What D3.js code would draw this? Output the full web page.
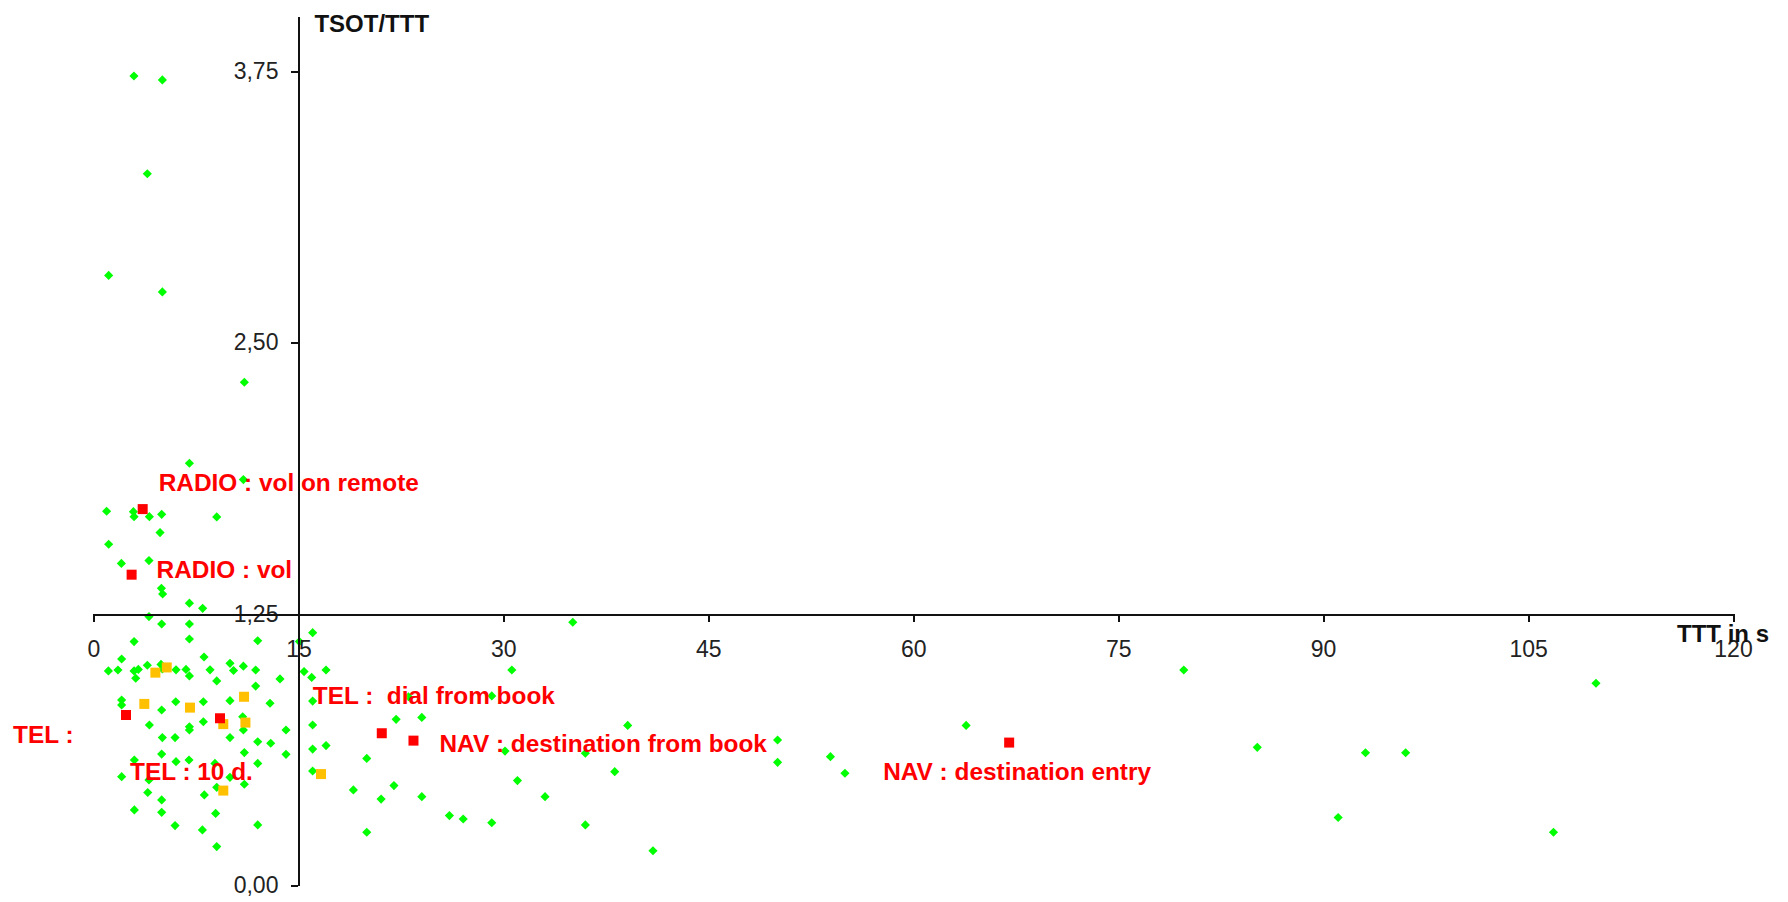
<!DOCTYPE html>
<html>
<head>
<meta charset="utf-8">
<script src="https://cdn.jsdelivr.net/npm/d3@7"></script>
<style>
  html, body { margin: 0; padding: 0; background: #fff; }
  svg { display: block; }
  .tick text { font-family: "Liberation Sans", Arial, sans-serif; font-size: 23px; fill: #222; }
  .axis path, .axis line { stroke: #111; stroke-width: 2; shape-rendering: crispEdges; }
  .title { font-family: "Liberation Sans", Arial, sans-serif; font-size: 24px; font-weight: bold; fill: #111; }
  .note { font-family: "Liberation Sans", Arial, sans-serif; font-size: 24.4px; font-weight: bold; fill: #ff0000; }
</style>
</head>
<body>
<svg id="chart" width="1788" height="902"></svg>
<script>
// ---- data -------------------------------------------------------------
// x: total task time TTT (s), y: TSOT/TTT ratio
const tasksX = [2.96,5.04,3.94,1.11,5.04,
  11.04,7.02,10.97,0.96,2.92,2.97,4.09,4.99,9.02,4.87,1.11,2.04,4.06,4.97,5.06,7.02,7.99,4.06,
  4.99,7.02,7.02,2.97,12.02,2.06,8.09,1.09,1.79,2.97,3.28,3.94,3.09,4.94,5.04,6.04,6.77,7.02,8.53,9.02,
  9.99,10.25,10.97,11.87,13.65,11.87,2.06,2.06,4.99,6.02,8.04,9.99,12.92,8.04,7.02,7.02,4.09,10.92,10.97,
  5.04,5.97,9.99,14.09,12.02,12.97,14.09,11.04,4.99,2.99,6.04,6.99,8.89,12.02,9.99,2.06,4.06,9.02,11.04,
  3.97,8.11,4.99,2.99,4.99,8.94,5.97,7.97,12.02,9.02,
  35.08,16.04,15.07,15.41,15.97,17.02,30.62,16.04,23.05,29.15,22.15,24.03,16.04,16.04,17.02,30.12,36.0,
  20.0,16.04,19.02,21.99,21.05,24.03,31.03,33.05,26.05,27.06,29.15,36.0,20.0,
  39.1,38.15,40.95,50.07,50.07,53.94,55.0,63.87,79.8,
  85.18,93.1,96.04,91.1,109.97,106.86];
const tasksY = [3.727,3.709,3.277,2.809,2.733,
  2.317,1.944,1.869,1.723,1.721,1.698,1.698,1.709,1.697,1.625,1.571,1.483,1.496,1.368,1.342,1.300,1.276,1.238,
  1.204,1.204,1.135,1.123,1.127,1.043,1.052,0.988,0.992,0.988,0.995,1.014,0.954,1.018,0.997,0.993,0.995,0.965,0.993,0.942,
  1.023,0.990,1.010,0.992,0.951,0.918,0.854,0.831,0.808,0.846,0.846,0.851,0.839,0.754,0.731,0.716,0.739,0.777,0.716,
  0.681,0.681,0.681,0.716,0.662,0.655,0.604,0.612,0.605,0.578,0.570,0.578,0.562,0.562,0.498,0.501,0.486,0.452,0.466,
  0.428,0.417,0.394,0.348,0.337,0.332,0.276,0.256,0.279,0.179,
  1.212,1.164,1.123,0.985,0.958,0.992,0.992,0.849,0.869,0.873,0.765,0.774,0.739,0.628,0.644,0.619,0.609,
  0.585,0.527,0.440,0.460,0.398,0.409,0.483,0.409,0.322,0.306,0.289,0.279,0.245,
  0.737,0.524,0.160,0.670,0.567,0.593,0.517,0.737,0.992,
  0.636,0.611,0.611,0.313,0.931,0.245];

// reference tasks (orange)
const refX = [3.72,4.53,5.36,7.06,11.02,9.50,11.12,9.50,16.65];
const refY = [0.836,0.980,1.004,0.819,0.869,0.743,0.750,0.437,0.513];

// highlighted tasks (red) and their names
const keyNames = ["RADIO : vol on remote","RADIO : vol","TEL :","TEL : 10 d.",
  "TEL :  dial from book","NAV : destination from book","NAV : destination entry"];
const keyX = [3.60,2.79,2.38,9.26,21.10,23.42,67.02];
const keyY = [1.733,1.431,0.785,0.770,0.701,0.667,0.658];

const xTicks = [0,15,30,45,60,75,90,105,120];
const yTicks = [0,1.25,2.5,3.75];
const yTickLabels = ["0,00","1,25","2,50","3,75"];

// ---- layout -----------------------------------------------------------
const svg = d3.select("#chart");
const x = d3.scaleLinear().domain([0,120]).range([93.5,1733]);
const y = d3.scaleLinear().domain([0,4]).range([885.5,16.7]);
const xCross = 15;      // y axis sits at TTT = 15 s
const yCross = 1.25;    // x axis sits at ratio 1.25

// name label offsets (px) from each highlighted marker
const labelDX = [16,25,-113,-90,-69,26,-126];
const labelDY = [-18,3,28,62,-29,11,37];

// ---- marks ------------------------------------------------------------
const green = tasksX.map((v,i)=>({x:v,y:tasksY[i]}));
const orange = refX.map((v,i)=>({x:v,y:refY[i]}));
const red = keyX.map((v,i)=>({x:v,y:keyY[i],name:keyNames[i]}));

const diamond = d3.symbol().type(d3.symbolSquare).size(42)();
svg.append("g").selectAll("path").data(green).join("path")
  .attr("d", diamond)
  .attr("transform", d=>`translate(${x(d.x)},${y(d.y)}) rotate(45)`)
  .attr("fill","#00ff00");

const sq = d3.symbol().type(d3.symbolSquare).size(100)();
svg.append("g").selectAll("path").data(orange).join("path")
  .attr("d", sq)
  .attr("transform", d=>`translate(${x(d.x)},${y(d.y)})`)
  .attr("fill","#ffc000");

svg.append("g").selectAll("path").data(red).join("path")
  .attr("d", sq)
  .attr("transform", d=>`translate(${x(d.x)},${y(d.y)})`)
  .attr("fill","#ff0000");

// ---- axes -------------------------------------------------------------
const yAxis = d3.axisLeft(y).tickValues(yTicks)
  .tickFormat((d,i)=>yTickLabels[i]).tickSize(7).tickSizeOuter(0).tickPadding(13);
svg.append("g").attr("class","axis")
  .attr("transform",`translate(${x(xCross)},0)`).call(yAxis);

const xAxis = d3.axisBottom(x).tickValues(xTicks).tickSize(8).tickSizeOuter(8).tickPadding(19);
svg.append("g").attr("class","axis")
  .attr("transform",`translate(0,${y(yCross)})`).call(xAxis);

svg.selectAll(".axis .tick text").attr("fill","#222");

// axis titles
svg.append("text").attr("class","title")
  .attr("x", x(xCross)+16).attr("y", 32).text("TSOT/TTT");
svg.append("text").attr("class","title")
  .attr("x", 1677).attr("y", 642).text("TTT in s");

// ---- names of highlighted tasks ---------------------------------------
svg.append("g").selectAll("text").data(red).join("text")
  .attr("class","note")
  .attr("x",(d,i)=>x(d.x)+labelDX[i])
  .attr("y",(d,i)=>y(d.y)+labelDY[i])
  .attr("xml:space","preserve")
  .style("white-space","pre")
  .text(d=>d.name);
</script>
</body>
</html>
